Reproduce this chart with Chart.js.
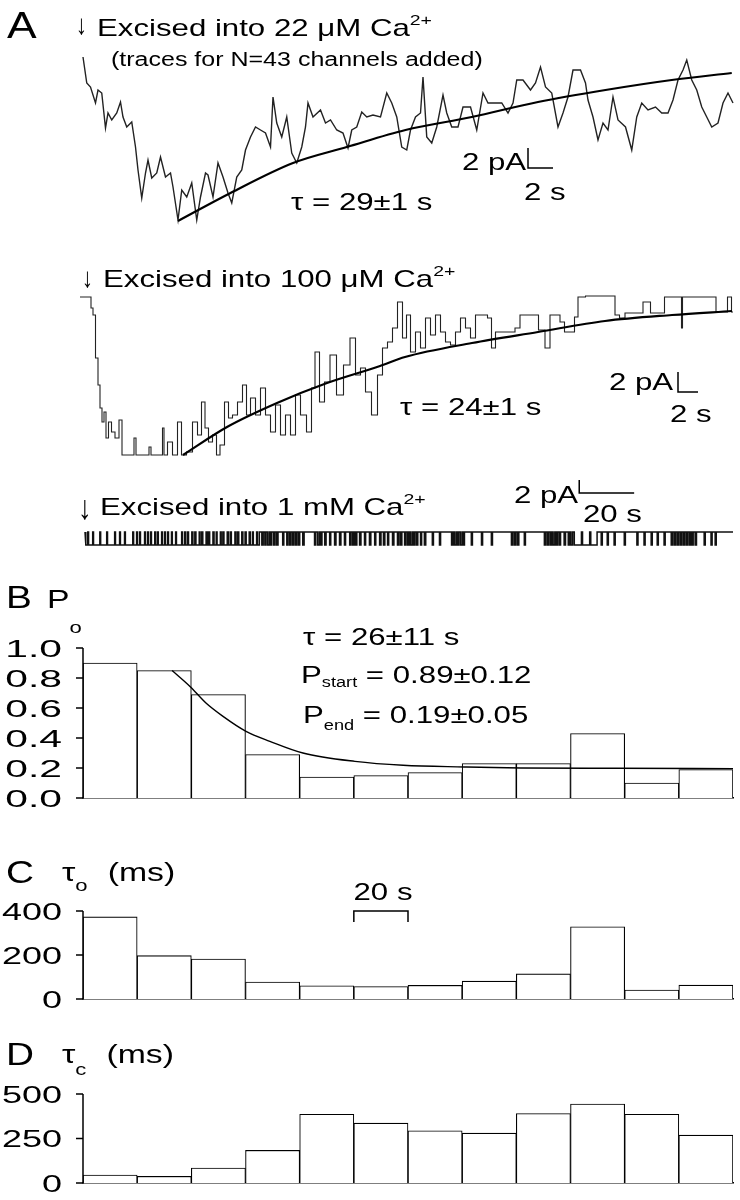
<!DOCTYPE html>
<html><head><meta charset="utf-8">
<script src="https://cdn.jsdelivr.net/npm/chart.js@4.4.1/dist/chart.umd.min.js"></script>
<style>
html,body{margin:0;padding:0;background:#fff;}
#wrap{position:relative;width:740px;height:1200px;overflow:hidden;background:#fff;}
#wrap canvas{position:absolute;left:0;}
</style></head><body><div id="wrap">
<canvas id="a1" style="top:0px;width:740px;height:250px"></canvas>
<canvas id="a2" style="top:250px;width:740px;height:220px"></canvas>
<canvas id="a3" style="top:470px;width:740px;height:110px"></canvas>
<canvas id="cb" style="top:580px;width:740px;height:230px"></canvas>
<canvas id="cc" style="top:810px;width:740px;height:200px"></canvas>
<canvas id="cd" style="top:1010px;width:740px;height:190px"></canvas>
</div>
<script>
// ---------- DATA ----------
// Panel A, trace 1: 22 uM Ca (time s, current pA)
const trace1T = [0.0,0.3,0.6,1.0,1.2,1.5,1.8,2.0,2.3,2.7,3.0,3.2,3.5,3.9,4.2,4.4,4.7,5.0,5.2,5.5,5.9,6.2,6.6,7.0,7.2,7.6,7.9,8.3,8.7,9.1,9.4,9.8,10.0,10.4,10.8,11.2,11.6,11.9,12.3,12.7,13.0,13.4,13.8,14.2,14.6,15.0,15.2,15.5,15.9,16.3,16.7,17.1,17.5,17.8,18.0,18.4,19.0,19.4,19.8,20.3,20.8,21.2,21.5,21.9,22.3,22.7,23.2,23.8,24.3,24.7,25.1,25.5,25.9,26.2,26.6,27.0,27.2,27.5,27.9,28.3,28.8,29.1,29.5,30.0,30.4,31.0,31.5,32.0,32.4,33.0,33.5,34.0,34.4,34.7,35.2,35.8,36.2,36.6,37.0,37.5,38.0,38.4,38.8,39.2,39.8,40.2,40.4,40.8,41.2,41.6,42.0,42.4,42.8,43.4,43.9,44.3,44.7,45.2,45.8,46.3,46.8,47.2,47.6,48.0,48.3,48.7,49.1,49.5,49.9,50.3,50.8,51.2,51.6,52.0];
const trace1I = [0.0,-2.6,-3.0,-4.6,-3.3,-3.6,-7.1,-5.6,-6.3,-5.6,-4.5,-6.0,-7.0,-6.5,-9.0,-11.3,-14.1,-11.6,-10.3,-12.1,-11.6,-10.0,-12.0,-11.6,-13.0,-16.3,-13.3,-14.0,-12.6,-16.3,-14.0,-11.6,-11.8,-14.0,-10.6,-12.0,-13.6,-14.6,-12.0,-11.3,-9.3,-8.0,-7.0,-7.3,-7.6,-9.0,-4.0,-6.6,-8.0,-6.0,-9.6,-10.6,-9.0,-7.0,-4.6,-6.0,-5.3,-6.6,-6.3,-7.3,-7.6,-9.1,-7.3,-7.0,-5.5,-6.0,-5.8,-6.0,-3.6,-4.6,-6.0,-9.0,-9.3,-7.3,-6.0,-5.6,-2.0,-8.0,-8.6,-7.0,-3.8,-5.6,-7.0,-7.0,-5.0,-5.0,-7.3,-3.6,-4.6,-4.6,-4.6,-5.6,-4.6,-2.3,-2.3,-3.3,-2.6,-1.0,-3.0,-3.6,-7.0,-5.6,-4.0,-1.3,-1.3,-2.6,-4.3,-6.0,-8.3,-6.6,-7.3,-4.0,-6.3,-7.0,-9.3,-6.0,-4.6,-5.3,-5.0,-5.6,-5.6,-4.3,-2.3,-1.3,-0.3,-2.3,-3.3,-5.0,-6.0,-7.0,-6.6,-4.6,-3.6,-4.6];
const fit1T = [7.6,11.8,16.8,21.1,25.8,31.1,36.4,41.8,47.1,51.9];
const fit1I = [-16.4,-13.6,-10.6,-9.0,-7.3,-6.0,-4.5,-3.3,-2.3,-1.6];

// Panel A, trace 2: 100 uM Ca
const trace2T = [0,1.0,1.2,1.4,1.7,1.9,2.1,2.3,2.5,2.7,3.0,3.3,3.7,4.1,4.3,5.3,5.5,5.7,6.8,7.0,7.2,8.2,8.3,8.5,9.0,9.5,10.0,10.3,11.0,11.5,12.0,12.3,12.7,13.0,13.5,13.8,14.2,14.7,15.0,15.5,16.0,16.5,16.8,17.3,17.8,18.3,18.8,19.3,19.8,20.3,20.8,21.3,21.8,22.3,23.0,23.3,23.7,24.2,24.7,25.3,26.0,26.7,27.3,27.8,28.3,28.8,29.5,30.0,30.5,31.0,31.5,32.0,32.5,32.8,33.3,33.8,34.3,34.8,35.3,35.8,36.3,36.8,37.3,37.8,38.3,38.8,39.3,39.8,40.5,41.0,41.3,41.8,42.5,43.2,43.8,44.2,44.8,45.5,46.2,46.8,47.2,47.8,48.2,48.7,49.2,49.7,49.9,51.2,52.5,53.3,53.7,54.2,54.8,55.8,56.8,57.3,58.2,58.7,60.1,60.2,60.3,63.5,63.7,64.5,65.0,65.3];
const trace2I = [0,0,-1.1,-1.8,-6.1,-8.8,-11.1,-12.5,-11.5,-14.1,-12.5,-13.5,-14.1,-12.3,-15.8,-15.8,-14.1,-15.8,-15.8,-15.0,-15.8,-15.8,-13.1,-15.8,-14.5,-15.8,-12.5,-15.8,-15.5,-12.5,-13.8,-10.5,-13.1,-14.5,-13.8,-15.8,-14.8,-10.5,-12.1,-11.8,-10.5,-8.8,-11.8,-10.1,-11.8,-9.1,-11.8,-13.5,-10.8,-13.8,-11.8,-13.8,-9.8,-11.8,-13.5,-9.1,-5.5,-10.5,-8.5,-5.8,-9.8,-6.8,-4.1,-7.8,-7.1,-9.5,-11.8,-7.8,-5.1,-4.5,-3.1,-0.5,-4.1,-1.8,-5.5,-3.5,-5.1,-2.1,-3.8,-1.8,-3.5,-4.5,-4.8,-3.5,-2.1,-3.1,-4.1,-1.8,-1.8,-2.1,-5.1,-3.5,-3.5,-3.5,-3.1,-1.8,-1.8,-1.8,-3.3,-5.1,-1.8,-1.8,-2.5,-3.5,-3.5,-2.0,0,0.1,0.1,0.1,-1.8,-2.1,-1.6,-1.6,-0.5,-1.6,-1.6,0,0,-3.1,0,0,-1.5,-1.5,0,-1.5];
const fit2T = [10.3,14.7,19.7,24.7,30.0,32.5,39.2,45.8,52.5,59.2,65.2];
const fit2I = [-15.8,-13.0,-10.6,-8.6,-6.9,-6.0,-4.6,-3.5,-2.4,-1.8,-1.4];

// Panel A, trace 3: 1 mM Ca, single-channel open intervals [start s, end s]
const trace3Open = [[0.3,1.0],[1.3,2.8],[3.1,5.4],[5.7,7.9],[8.2,10.8],[11.1,12.6],[12.9,14.4],[14.7,17.4],[17.7,18.8],[19.1,19.9],[20.2,21.7],[22.0,22.8],[23.1,23.9],[24.2,25.4],[25.7,26.4],[26.7,27.9],[28.2,29.0],[29.3,30.1],[30.4,31.5],[31.8,33.0],[33.3,35.2],
[35.5,36.3],[36.7,37.4],[37.7,38.9],[39.3,40.0],[40.4,41.6],[41.9,42.5],[42.9,44.1],[44.5,45.0],[45.4,46.6],[47.0,47.8],[48.1,49.3],[49.6,50.2],[50.6,51.8],[52.2,52.9],[53.3,54.6],[55.0,55.6],[56.0,57.1],[57.5,58.3],[58.7,59.8],[60.2,61.0],[61.3,62.5],[62.8,63.5],
[64.4,64.9],[65.5,65.9],[66.5,67.1],[67.6,68.0],[68.7,69.2],[69.8,70.3],[72.0,72.4],[73.5,73.9],[74.5,75.0],[75.6,76.1],[76.7,77.2],[77.8,78.2],[79.3,79.8],[83.6,84.0],[84.7,85.3],[85.8,86.3],[87.3,87.8],[89.1,89.5],[90.9,91.4],[92.7,93.2],[94.5,94.9],[96.4,96.9],[97.5,98.0],[98.5,99.0],[100.0,100.5],[101.8,102.2],[103.6,104.1],[105.5,105.9],[107.3,107.8],[108.7,109.2],[110.2,110.6],[112.0,112.5],[113.8,114.3],[114.9,115.4],[116.4,116.9],[117.5,118.0],[118.5,119.1],[119.6,120.1],[120.7,121.2],[122.2,122.6],[123.6,124.1],[126.5,126.9],[129.1,129.5],[133.5,134.0],[134.5,135.1],[135.6,136.1],[136.7,137.3],[137.8,138.2],[140.7,141.1],[144.4,144.8],[148.0,148.4],[155.3,155.8],[156.4,156.9],[157.5,158.0],[160.0,160.4],[167.3,167.8],[168.4,168.9],[169.5,170.0],[170.5,171.1],[171.6,172.1],[172.7,173.2],[174.5,175.0],[176.0,176.5],[177.0,177.6],[178.2,180.8],[181.2,183.8],[184.2,186.5],[188.0,188.4],[190.2,190.6],[192.7,193.1],[196.4,196.8],[201.0,201.4],[203.6,204.0],[206.2,206.6],[208.4,208.8],[210.9,211.3],[213.5,213.9],[214.5,215.0],[215.6,216.1],[216.7,217.2],[217.8,218.3],[218.9,219.4],[220.0,220.5],[221.0,221.5],[222.2,222.7],[225.5,225.9],[228.0,228.4],[229.5,229.9]];
const trace3Amp = -2.0;     // pA, unitary open current
const trace3End = 236;      // s

// Panels B-D: 20-s bins (start time of each bin, s)
const binStarts  = [0,20,40,60,80,100,120,140,160,180,200,220];
const binWidth   = 20;
const poValues   = [0.90,0.85,0.69,0.29,0.14,0.15,0.17,0.23,0.23,0.43,0.10,0.19];
const poFitT     = [32.9,39.5,45.4,51.7,60.2,69.0,81.2,100.4,118.2,140.7,161.7,196.8,240];
const poFitP     = [0.85,0.744,0.633,0.544,0.444,0.378,0.30,0.244,0.218,0.207,0.20,0.198,0.196];
const tauOValues = [373,197,182,77,60,57,62,81,114,328,41,63];
const tauCValues = [45,37,84,183,386,336,293,280,390,444,386,269];

const bTicks = [0,0.2,0.4,0.6,0.8,1.0];
const bTickLabels = ['0.0','0.2','0.4','0.6','0.8','1.0'];
const cTicks = [0,200,400];
const cTickLabels = ['0','200','400'];
const dTicks = [0,250,500];
const dTickLabels = ['0','250','500'];

// ---------- HELPERS ----------
const FONT = '"Liberation Sans", Arial, Helvetica, sans-serif';
function pts(xs, ys){ return xs.map((x,i)=>({x:x, y:ys[i]})); }
function binPts(vals){ return vals.map((v,i)=>({x:binStarts[i]+binWidth/2, y:v})); }
function openPts(list, amp, end){
  const out=[{x:0,y:0}];
  list.forEach(([a,b])=>{ out.push({x:a,y:0},{x:a,y:amp},{x:b,y:amp},{x:b,y:0}); });
  out.push({x:end,y:0});
  return out;
}
function drawRuns(ctx, it, top){
  const s = it.stretch || 1.3;
  let w = 0;
  it.runs.forEach(r=>{ ctx.font = r.size+'px '+FONT; w += ctx.measureText(r.t).width*s + (r.gap||0); });
  let x = it.x;
  if (it.align==='right') x -= w; else if (it.align==='center') x -= w/2;
  it.runs.forEach(r=>{
    ctx.save();
    ctx.font = r.size+'px '+FONT;
    const mw = ctx.measureText(r.t).width;
    x += (r.gap||0);
    ctx.translate(x, it.y - top + (r.dy||0));
    ctx.scale(s,1);
    ctx.fillStyle='#000'; ctx.textBaseline='alphabetic'; ctx.textAlign='left';
    ctx.fillText(r.t,0,0);
    ctx.restore();
    x += mw*s;
  });
}
function textPlugin(top, items){
  return { id:'texts', afterDraw(chart){ const ctx=chart.ctx; items.forEach(it=>drawRuns(ctx,it,top)); } };
}
function yAxisPlugin(values, labels, size, stretch, xRight){
  return { id:'yaxis', afterDraw(chart){
    const ctx=chart.ctx, sc=chart.scales.y, x0=chart.chartArea.left;
    ctx.save(); ctx.strokeStyle='#000'; ctx.lineWidth=1.5; ctx.beginPath();
    ctx.moveTo(x0, sc.getPixelForValue(values[0])+0.75); ctx.lineTo(x0, sc.getPixelForValue(values[values.length-1]));
    values.forEach(v=>{ const y=sc.getPixelForValue(v); ctx.moveTo(x0-7,y); ctx.lineTo(x0,y); });
    ctx.stroke(); ctx.restore();
    values.forEach((v,i)=>{
      drawRuns(ctx,{x:xRight, y:sc.getPixelForValue(v)+size*0.36, align:'right', stretch:stretch, runs:[{t:labels[i], size:size}]},0);
    });
  }};
}
function barsPlugin(items){
  return { id:'scalebars', afterDraw(chart){
    const ctx=chart.ctx;
    items.forEach(b=>{
      const xs=chart.scales.x, ys=chart.scales.y;
      const x0=xs.getPixelForValue(b.x), x1=xs.getPixelForValue(b.x+b.dx);
      const y0=ys.getPixelForValue(b.y), y1=ys.getPixelForValue(b.y+b.dy);
      ctx.save(); ctx.strokeStyle='#000'; ctx.lineWidth=1.5; ctx.beginPath();
      if (b.kind==='bracket'){ ctx.moveTo(x0,y1); ctx.lineTo(x0,y0); ctx.lineTo(x1,y0); ctx.lineTo(x1,y1); }
      else { ctx.moveTo(x0,y1); ctx.lineTo(x0,y0); ctx.lineTo(x1,y0); }
      ctx.stroke(); ctx.restore();
    });
  }};
}
function T(x,y,str,size,extra){ return Object.assign({x:x,y:y,runs:[{t:str,size:size||24}]}, extra||{}); }

function traceChart(id, top, datasets, xr, yr, pad, texts, bars){
  return new Chart(document.getElementById(id), {
    type:'line',
    data:{datasets:datasets},
    options:{
      responsive:false, animation:false, events:[],
      layout:{padding:pad},
      scales:{ x:{type:'linear',display:false,min:xr[0],max:xr[1]}, y:{type:'linear',display:false,min:yr[0],max:yr[1]} },
      plugins:{legend:{display:false}, tooltip:{enabled:false}}
    },
    plugins:[textPlugin(top,texts), barsPlugin(bars)]
  });
}
function lineDs(data, w, color, extra){
  return Object.assign({data:data, borderColor:color||'#000', borderWidth:w, pointRadius:0, fill:false, clip:false}, extra||{});
}

// ---------- PANEL A ----------
traceChart('a1', 0, [
  lineDs(pts(fit1T,fit1I), 2.2, '#000', {cubicInterpolationMode:'monotone'}),
  lineDs(pts(trace1T,trace1I), 1.4, '#222')
], [0,52], [-17.5,0.5], {left:83,right:7,top:52,bottom:18}, [
  T(7,38,'A',37,{stretch:1.2}),
  T(76,34,'↓',28,{stretch:0.8}),
  {x:97,y:36,runs:[{t:'Excised into 22 μM Ca',size:24},{t:'2+',size:15,dy:-11}]},
  T(111,66,'(traces for N=43 channels added)',20,{stretch:1.25}),
  T(291,210,'τ = 29±1 s',24),
  T(462,170,'2 pA',24),
  T(524,200,'2 s',24)
], [{x:35.6,y:-11.1,dx:2,dy:2}]);

traceChart('a2', 250, [
  lineDs(pts(fit2T,fit2I), 2.2, '#000', {cubicInterpolationMode:'monotone'}),
  lineDs(pts(trace2T,trace2I), 1.1, '#222', {stepped:'middle'})
], [0,65.3], [-16.8,1.2], {left:80,right:7,top:35,bottom:5}, [
  T(82,287,'↓',28,{stretch:0.8}),
  {x:103,y:287,runs:[{t:'Excised into 100 μM Ca',size:24},{t:'2+',size:15,dy:-11}]},
  T(400,415,'τ = 24±1 s',24),
  T(609,390,'2 pA',24),
  T(670,422,'2 s',24)
], [{x:59.8,y:-9.5,dx:2,dy:2}]);

traceChart('a3', 470, [
  lineDs(openPts(trace3Open,trace3Amp,trace3End), 1.5, '#111')
], [0,236], [-3.5,1.8], {left:85,right:7,top:50.3,bottom:25.25}, [
  T(78,519,'↓',34,{stretch:0.8}),
  {x:100,y:515,runs:[{t:'Excised into 1 mM Ca',size:24},{t:'2+',size:15,dy:-11}]},
  T(514,503,'2 pA',24),
  T(583,522,'20 s',24)
], [{x:180,y:6.0,dx:20,dy:2}]);

// ---------- PANELS B-D ----------
function histChart(id, top, values, ticks, tickLabels, tickStretch, yMax, padTop, xH, texts, extraDs, bars){
  const datasets = (extraDs||[]).concat([{type:'bar', data:binPts(values), backgroundColor:'#fff', borderColor:'#000', borderWidth:1.1, barPercentage:1, categoryPercentage:1}]);
  return new Chart(document.getElementById(id), {
    type:'bar',
    data:{datasets:datasets},
    options:{
      responsive:false, animation:false, events:[],
      layout:{padding:{left:0,right:7,top:padTop,bottom:0}},
      scales:{
        x:{type:'linear', min:0, max:binStarts.length*binWidth, offset:false, grid:{display:false, offset:false}, ticks:{display:false}, border:{display:true,color:'#000',width:1.5}, afterFit:s=>{s.height=xH;}},
        y:{type:'linear', min:0, max:yMax, ticks:{display:false}, grid:{display:false}, border:{display:false}, afterFit:s=>{s.width=83;}}
      },
      plugins:{legend:{display:false}, tooltip:{enabled:false}}
    },
    plugins:[yAxisPlugin(ticks,tickLabels,24,tickStretch,62), textPlugin(top,texts), barsPlugin(bars||[])]
  });
}

histChart('cb', 580, poValues, bTicks, bTickLabels, 1.7, 1.0, 68, 12, [
  T(6,608,'B',31,{stretch:1.25}),
  {x:47,y:608,runs:[{t:'P',size:26},{t:'o',size:17,dy:25}]},
  T(303,645,'τ = 26±11 s',24),
  {x:301,y:683,runs:[{t:'P',size:24},{t:'start',size:14,dy:4},{t:' = 0.89±0.12',size:24}]},
  {x:303,y:723,runs:[{t:'P',size:24},{t:'end',size:14,dy:7},{t:' = 0.19±0.05',size:24}]}
], [{type:'line', data:pts(poFitT,poFitP), borderColor:'#000', borderWidth:1.4, pointRadius:0, fill:false, cubicInterpolationMode:'monotone'}]);

histChart('cc', 810, tauOValues, cTicks, cTickLabels, 1.5, 400, 101, 11, [
  T(6,883,'C',31,{stretch:1.25}),
  {x:62,y:881,runs:[{t:'τ',size:26},{t:'o',size:17,dy:10},{t:'(ms)',size:26,gap:20}]},
  T(383,900,'20 s',24,{align:'center'})
], [], [{kind:'bracket', x:100, dx:20, y:400, dy:-50}]);

histChart('cd', 1010, tauCValues, dTicks, dTickLabels, 1.5, 500, 84, 17, [
  T(6,1065,'D',31,{stretch:1.25}),
  {x:62,y:1063,runs:[{t:'τ',size:26},{t:'c',size:17,dy:12},{t:'(ms)',size:26,gap:20}]}
]);
</script></body></html>
